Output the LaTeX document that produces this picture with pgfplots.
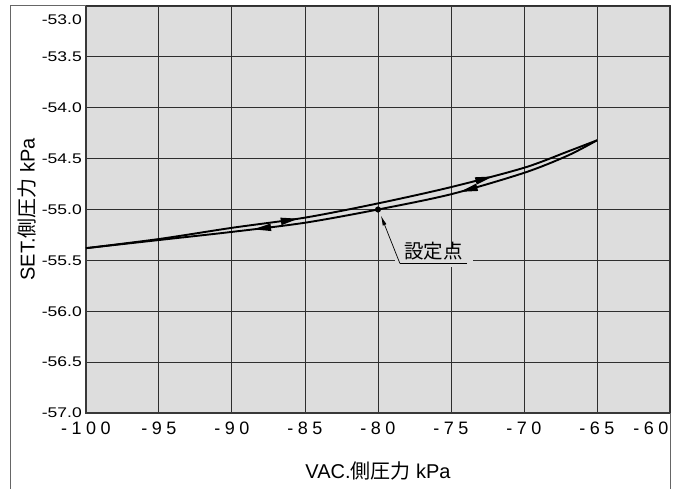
\documentclass[border=0pt]{standalone}
\usepackage{fontspec}
\setmainfont{Liberation Sans}
\newfontfamily\cjk{Noto Sans CJK JP}
\newfontfamily\xtickfont[LetterSpace=25]{Liberation Sans}
\newfontfamily\ytickfont[FakeStretch=1.25]{Liberation Sans}
\usepackage{pgfplots}
\pgfplotsset{compat=1.18}
\usetikzlibrary{decorations.markings,arrows.meta}
\definecolor{bg}{RGB}{221,221,221}
\tikzset{hyst/.style={black,line width=1.9pt,smooth,postaction={decorate},decoration={markings,
	mark=at position #1 with {\arrow{Triangle[length=18pt,width=7pt]}}}}}
\begin{document}
\begin{tikzpicture}
\useasboundingbox (-86pt,-76pt) rectangle (597pt,413pt);
\begin{axis}[at={(0,0)},anchor=south west,scale only axis,width=584pt,height=407pt,
	xmin=-100,xmax=-60,ymin=-57,ymax=-53,
	xtick={-100,-95,...,-65},ytick={-57,-56.5,...,-53.5},
	extra x ticks={-60},extra x tick style={xticklabel style={xshift=-19pt}},
	extra y ticks={-53},extra y tick style={yticklabel style={yshift=-14pt}},
	grid=major,major grid style={black!82,line width=1pt},
	major tick length=0pt,tick style={draw=none},
	axis line style={black!78,line width=1.1pt},
	axis background/.style={fill=bg},
	/pgf/number format/assume math mode=true,
	xticklabel style={font=\fontsize{18}{18}\xtickfont,inner sep=0pt,anchor=north,yshift=-9pt},
	yticklabel style={font=\fontsize{14}{14}\ytickfont,inner sep=0pt,anchor=east,xshift=-4pt},
	yticklabel={\pgfmathprintnumber[fixed,fixed zerofill,precision=1]{\tick}},
	xlabel={VAC.{\cjk 側圧力} kPa},ylabel={SET.{\cjk 側圧力} kPa},
	label style={font=\fontsize{20}{20}\selectfont},
	xlabel style={at={(axis description cs:0.5,-0.1425)},anchor=center},
	ylabel style={at={(axis description cs:-0.101,0.5)},anchor=center},
	]
% rising branch
\addplot[black,line width=1.9pt,smooth,postaction={decorate},decoration={markings,
	mark=at position 0.41 with {\arrow{Triangle[length=18pt,width=7pt]}},
	mark=at position 0.79 with {\arrow{Triangle[length=18pt,width=7pt]}}}]
	coordinates {(-100,-55.38) (-95,-55.29) (-90,-55.18) (-85,-55.08) (-80,-54.94)
	(-75,-54.78) (-70,-54.59) (-67,-54.43) (-65,-54.32)};
% falling branch
\addplot[black,line width=1.9pt,smooth,postaction={decorate},decoration={markings,
	mark=at position 0.28 with {\arrow{Triangle[length=18pt,width=7pt]}},
	mark=at position 0.68 with {\arrow{Triangle[length=18pt,width=7pt]}}}]
	coordinates {(-65,-54.32) (-67,-54.47) (-70,-54.64) (-75,-54.85) (-80,-55.00)
	(-85,-55.13) (-90,-55.22) (-95,-55.30) (-100,-55.38)};
% set point
\addplot[only marks,mark=*,mark size=2.8pt,black] coordinates {(-80,-55.00)};
\fill[bg] (axis cs:-78.85,-55.57) rectangle (axis cs:-73.5,-55.44);
\draw[line width=0.7pt] (axis cs:-73.9,-55.53) -- (axis cs:-78.5,-55.53);
\draw[line width=0.7pt,-{Latex[length=10pt,width=4pt]}] (axis cs:-78.5,-55.53) -- (axis cs:-79.8,-55.06);
\node[font=\fontsize{19.5}{19.5}\cjk] at (axis cs:-76.2,-55.41) {設定点};
\end{axis}
\draw[black!60,line width=1pt] (-75pt,-76pt) -- (-75pt,407pt) -- (0pt,407pt);
\draw[black!60,line width=1pt] (584pt,0pt) -- (584pt,-76pt);
\end{tikzpicture}
\end{document}
